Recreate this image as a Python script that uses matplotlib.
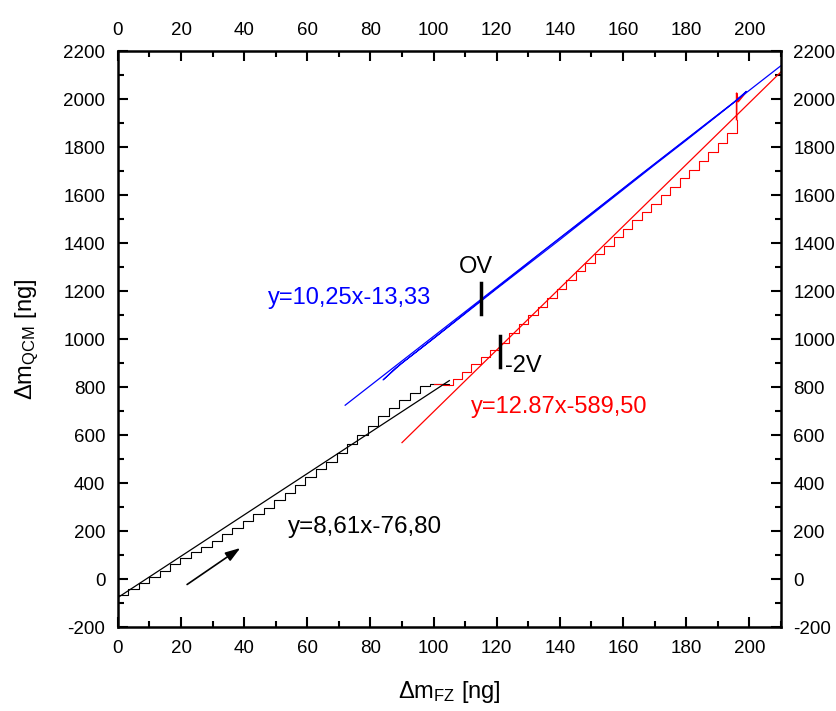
import matplotlib.pyplot as plt
import numpy as np

plt.rcParams['font.family'] = ['Liberation Sans', 'DejaVu Sans']
plt.rcParams['mathtext.default'] = 'regular'
plt.rcParams['axes.unicode_minus'] = False

# black staircase (0 V, loading)
black_x = [0, 3.3, 6.6, 9.9, 13.2, 16.5, 19.8, 23.1, 26.4, 29.7, 33, 36.3, 39.6, 42.9,
           46.2, 49.5, 52.8, 56.1, 59.4, 62.7, 66, 69.3, 72.6, 75.9, 79.2, 82.5, 85.8,
           89.1, 92.4, 95.7, 99, 102, 105]
black_y = [-65, -40, -15, 10, 35, 62, 88, 112, 135, 160, 188, 215, 243, 270,
           298, 328, 360, 392, 425, 458, 490, 525, 562, 600, 640, 680, 715,
           745, 775, 805, 815, 812, 808]

# red staircase (-2 V)
red_x = [100, 103, 106, 109, 112, 115, 118, 121, 124, 127, 130, 133, 136, 139, 142,
         145, 148, 151, 154, 157, 160, 163, 166, 169, 172, 175, 178, 181, 184, 187,
         190, 193, 196]
red_y = [815, 808, 835, 862, 895, 925, 955, 985, 1025, 1062, 1100, 1135, 1172, 1208,
         1245, 1282, 1318, 1355, 1390, 1425, 1460, 1495, 1530, 1565, 1600, 1635, 1670,
         1705, 1742, 1780, 1818, 1858, 1915]
red_tail_x = [196, 196, 196.5, 199]
red_tail_y = [1915, 2025, 1990, 2030]

# blue return curve (0 V)
blue_x = [199, 196, 190, 180, 170, 160, 150, 140, 130, 120, 110, 100, 90, 84,
          88, 95, 105, 115, 125, 135, 145, 155, 165, 175, 185, 195, 199]
blue_y = [2030, 1995, 1932, 1828, 1726, 1622, 1518, 1414, 1312, 1210, 1106, 1002, 900, 830,
          880, 952, 1056, 1162, 1266, 1370, 1472, 1576, 1680, 1782, 1884, 1986, 2032]

# linear fits: slope, intercept, x range
fit_black = (8.61, -76.80, 0, 105)
fit_red = (12.87, -589.50, 90, 210)
fit_blue = (10.25, -13.33, 72, 210)

fig = plt.figure(figsize=(8.36, 7.11), dpi=100)
ax = fig.add_axes([0.141, 0.118, 0.793, 0.810])

ax.plot(black_x, black_y, color='black', lw=0.8, drawstyle='steps-post')
ax.plot(red_x, red_y, color='red', lw=0.8, drawstyle='steps-post')
ax.plot(red_tail_x, red_tail_y, color='red', lw=1.2)
ax.plot(blue_x, blue_y, color='blue', lw=0.8)

for (k, b, x0, x1), c in [(fit_black, 'black'), (fit_red, 'red'), (fit_blue, 'blue')]:
    xs = np.array([x0, x1])
    ax.plot(xs, k * xs + b, color=c, lw=0.9)

# voltage markers
ax.plot([115, 115], [1104, 1235], color='black', lw=2.5)
ax.plot([121, 121], [882, 1012], color='black', lw=2.5)
ax.text(113.4, 1300, 'OV', fontsize=17, ha='center', va='center')
ax.text(122.5, 887, '-2V', fontsize=17, ha='left', va='center')

ax.text(47.5, 1171, 'y=10,25x-13,33', fontsize=17, color='blue', va='center')
ax.text(112, 717, 'y=12.87x-589,50', fontsize=17, color='red', va='center')
ax.text(54, 217, 'y=8,61x-76,80', fontsize=17.5, color='black', va='center')

ax.annotate('', xy=(39.5, 136), xytext=(21.2, -29),
            arrowprops=dict(arrowstyle='-|>,head_length=0.9,head_width=0.3',
                            color='black', lw=1.2))

ax.set_xlim(0, 210)
ax.set_ylim(-200, 2200)
ax.set_xticks(np.arange(0, 201, 20))
ax.set_xticks(np.arange(10, 211, 20), minor=True)
ax.set_yticks(np.arange(-200, 2201, 200))
ax.set_yticks(np.arange(-100, 2200, 200), minor=True)

ax.tick_params(which='both', direction='in', top=True, right=True,
               labeltop=True, labelright=True, labelsize=13.5)
ax.tick_params(which='major', length=7, width=1.5, pad=9)
ax.tick_params(which='minor', length=4, width=1.5)
for s in ax.spines.values():
    s.set_linewidth(1.8)

ax.set_xlabel('Δm$_{FZ}$ [ng]', fontsize=17, labelpad=16)
ax.set_ylabel('Δm$_{QCM}$ [ng]', fontsize=17, labelpad=16)

fig.savefig('out.png', dpi=100)
